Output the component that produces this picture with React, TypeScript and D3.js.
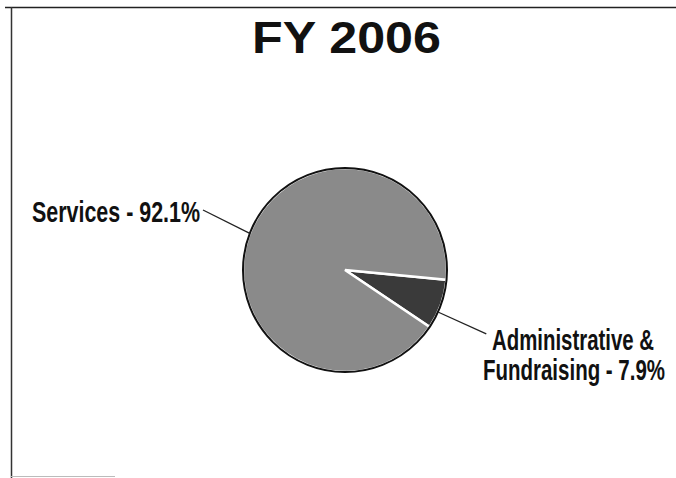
import React from "react";
import * as d3 from "d3";

const title = "FY 2006";
const categories = ["Administrative & Fundraising", "Services"];
const values = [7.9, 92.1];
const labelLines = [["Administrative &", "Fundraising - 7.9%"], ["Services - 92.1%"]];
const colors = ["#3a3a3a", "#8a8a8a"];

const W = 676, H = 478;
const cx = 345, cy = 270, R = 102;

export default function App() {
  const start = (95.5 * Math.PI) / 180;
  const pie = d3.pie<number>().sort(null).value((d) => d)
    .startAngle(start)
    .endAngle(start + 2 * Math.PI);
  const arcs = pie(values);
  const arcGen = d3.arc<d3.PieArcDatum<number>>().innerRadius(0).outerRadius(R);
  const pt = (a: number, r: number) => [Math.sin(a) * r, -Math.cos(a) * r];

  // leader lines
  const admin = arcs[0];
  const adminMid = (admin.startAngle + admin.endAngle) / 2 + 0.08;
  const [ax1, ay1] = pt(adminMid, R);
  const [ax2, ay2] = pt(adminMid, R * 1.52);
  const servAngle = (291 * Math.PI) / 180;
  const [sx1, sy1] = pt(servAngle, R);

  const lbl = (x: number, y: number, w: number, s: string) => (
    <g transform={`translate(${x},${y}) scale(1,1.4)`}>
      <text x={0} y={0} fontSize={21} textLength={w} lengthAdjust="spacingAndGlyphs">{s}</text>
    </g>
  );

  return (
    <svg width={W} height={H} style={{ position: "fixed", left: 0, top: 0, background: "#fff" }}
      fontFamily="'Liberation Sans', Arial, sans-serif">
      <line x1={5} y1={7.5} x2={676} y2={7.5} stroke="#222" strokeWidth={1.5} />
      <line x1={11.5} y1={7} x2={11.5} y2={478} stroke="#333" strokeWidth={1.5} />
      <line x1={11} y1={476.5} x2={115} y2={476.5} stroke="#bbb" strokeWidth={1} />
      <text x={252} y={53} fontSize={45} fontWeight="bold" fill="#111"
        textLength={189} lengthAdjust="spacingAndGlyphs">{title}</text>
      <g transform={`translate(${cx},${cy})`}>
        {arcs.map((a, i) => (
          <path key={categories[i]} d={arcGen(a) || ""} fill={colors[i]} stroke="#fff" strokeWidth={2.5} />
        ))}
        <circle r={R} fill="none" stroke="#111" strokeWidth={2} />
        <line x1={ax1} y1={ay1} x2={ax2} y2={ay2} stroke="#222" strokeWidth={1.3} />
        <line x1={sx1} y1={sy1} x2={203 - cx} y2={210 - cy} stroke="#222" strokeWidth={1.3} />
      </g>
      <g fontWeight="bold" fill="#111">
        {lbl(32, 222, 168, labelLines[1][0])}
        {lbl(492, 350, 162, labelLines[0][0])}
        {lbl(483, 380, 182, labelLines[0][1])}
      </g>
    </svg>
  );
}
